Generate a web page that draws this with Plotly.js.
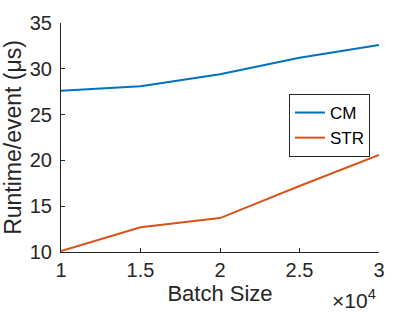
<!DOCTYPE html>
<html>
<head>
<meta charset="utf-8">
<script src="https://cdn.plot.ly/plotly-3.0.1.min.js"></script>
<style>html,body{margin:0;padding:0;background:#fff;}#chart{width:407px;height:314px;}</style>
</head>
<body>
<div id="chart"></div>
<script>
const batchSize = [10000, 15000, 20000, 25000, 30000];
const cmRuntime = [27.6, 28.1, 29.4, 31.2, 32.6];
const strRuntime = [10.1, 12.7, 13.7, 17.2, 20.6];
const xTickVals = [10000, 15000, 20000, 25000, 30000];
const xTickText = ['1', '1.5', '2', '2.5', '3'];
const yTickVals = [10, 15, 20, 25, 30, 35];

const FONT = 'Liberation Sans, Arial, Helvetica, sans-serif';
const AX = '#262626';

const traces = [
  {x: batchSize, y: cmRuntime, name: 'CM', type: 'scatter', mode: 'lines',
   line: {color: '#0072BD', width: 2}},
  {x: batchSize, y: strRuntime, name: 'STR', type: 'scatter', mode: 'lines',
   line: {color: '#D95319', width: 2}}
];

const layout = {
  width: 407, height: 314,
  margin: {l: 61, r: 28, t: 23, b: 62, pad: 0},
  paper_bgcolor: '#fff', plot_bgcolor: '#fff',
  font: {family: FONT, color: AX, size: 20},
  showlegend: true,
  legend: {
    x: 0.717, y: 0.69, xanchor: 'left', yanchor: 'top',
    bordercolor: AX, borderwidth: 1, bgcolor: '#fff',
    font: {family: FONT, size: 17, color: '#000'},
    tracegroupgap: 0, itemwidth: 30
  },
  xaxis: {
    range: [10000, 30000], tickvals: xTickVals, ticktext: xTickText,
    ticks: 'inside', ticklen: 4, tickcolor: AX, tickwidth: 1,
    showline: true, linecolor: AX, linewidth: 1, mirror: false,
    showgrid: false, zeroline: false,
    tickfont: {family: FONT, size: 20, color: AX},
    title: {text: 'Batch Size', font: {family: FONT, size: 22, color: AX}, standoff: 4}
  },
  yaxis: {
    range: [10, 35], tickvals: yTickVals,
    ticks: 'inside', ticklen: 4, tickcolor: AX, tickwidth: 1,
    showline: true, linecolor: AX, linewidth: 1, mirror: false,
    showgrid: false, zeroline: false,
    tickfont: {family: FONT, size: 20, color: AX},
    ticklabelstandoff: 4,
    title: {text: 'Runtime/event (μs)', font: {family: FONT, size: 23, color: AX}, standoff: 3}
  },
  annotations: [{
    xref: 'paper', yref: 'paper', x: 1, y: 0, xanchor: 'right', yanchor: 'top',
    xshift: -1, yshift: -32, showarrow: false,
    text: '×10<sup>4</sup>', font: {family: FONT, size: 21, color: AX}
  }]
};

Plotly.newPlot('chart', traces, layout, {displayModeBar: false, staticPlot: true});
</script>
</body>
</html>
